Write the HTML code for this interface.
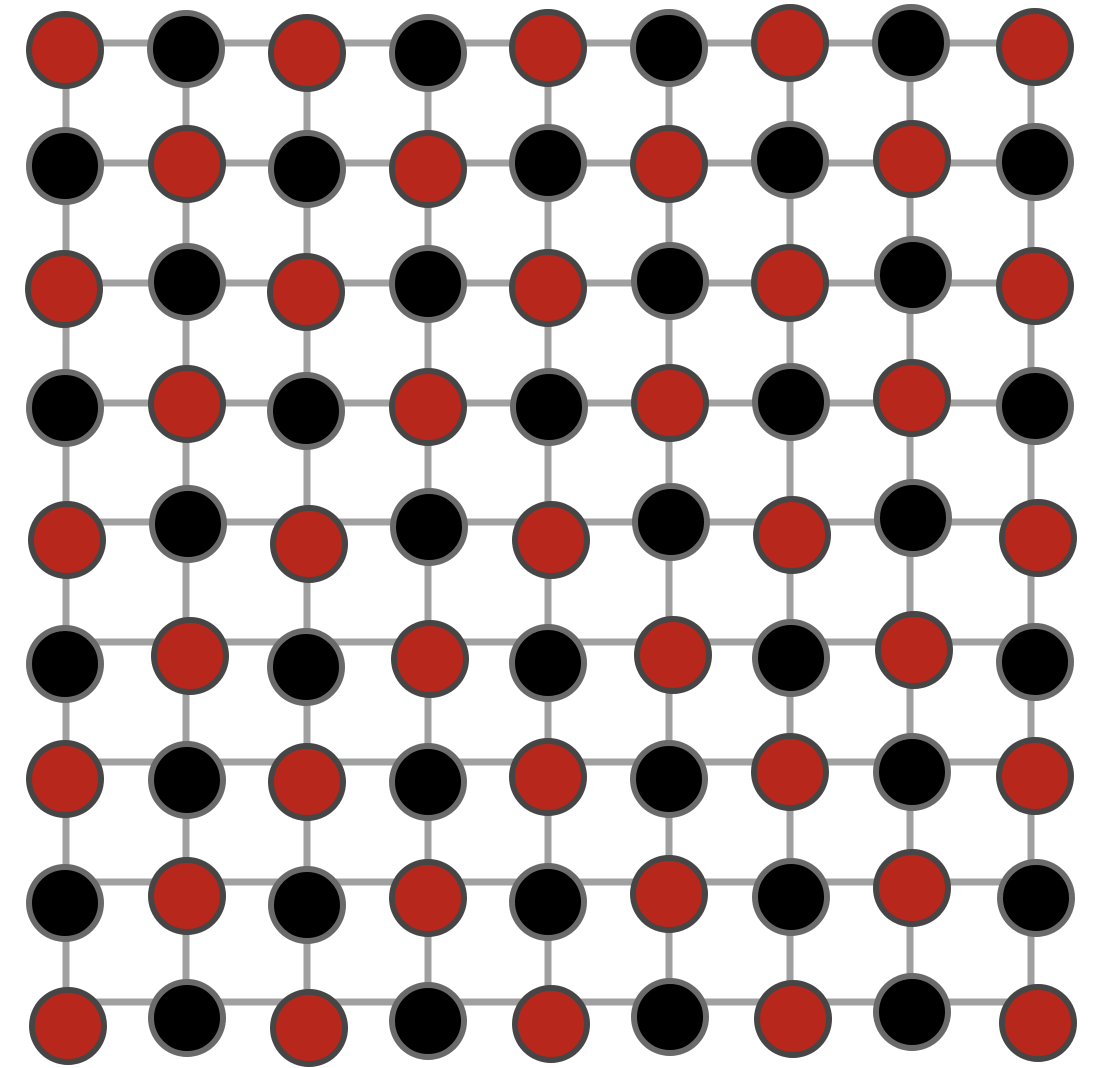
<!DOCTYPE html>
<html><head><meta charset="utf-8"><style>html,body{margin:0;padding:0;background:#fff;}svg{display:block;}</style></head>
<body>
<svg id="chart" width="1102" height="1068" viewBox="0 0 1102 1068"></svg>
<script>
const gridX = [66, 186, 307, 428, 548, 669, 790, 910, 1031];
const gridY = [43, 163, 283, 403, 522, 642, 762, 882, 1002];
const row0 = [[65,50],[186,49],[307,53],[428,53],[548,48],[669,48],[790,43],[911,43],[1035,47]];
const row1 = [[65,166],[187,164],[307,169],[428,169],[548,163],[669,164],[790,160],[912,159],[1035,162]];
const row2 = [[64,289],[187,282],[306,292],[428,284],[548,288],[670,281],[790,283],[913,275],[1035,286]];
const row3 = [[65,408],[187,404],[306,411],[428,407],[549,407],[670,403],[791,402],[912,398],[1035,406]];
const row4 = [[67,540],[188,524],[309,544],[429,527],[551,540],[671,522],[792,535],[913,518],[1038,538]];
const row5 = [[65,664],[190,656],[306,667],[430,659],[548,663],[673,655],[791,658],[914,650],[1035,662]];
const row6 = [[65,779],[187,780],[307,782],[428,782],[548,777],[669,779],[790,772],[912,772],[1035,776]];
const row7 = [[65,903],[187,896],[307,905],[428,898],[548,902],[669,894],[791,897],[912,888],[1036,898]];
const row8 = [[68,1026],[187,1018],[309,1028],[428,1021],[551,1024],[670,1017],[793,1019],[912,1012],[1038,1023]];
const rows = [row0,row1,row2,row3,row4,row5,row6,row7,row8];
const NS = "http://www.w3.org/2000/svg";
const svg = document.getElementById('chart');
function mk(t, a){const e=document.createElementNS(NS,t);for(const k in a)e.setAttribute(k,a[k]);svg.appendChild(e);return e;}
gridY.forEach((y,i)=>{
  const l = mk('line',{x1:gridX[0],x2:gridX[gridX.length-1],y1:y,y2:y,stroke:'#a0a0a0','stroke-width':7});
  
  
});
gridX.forEach((x,i)=>{
  const l = mk('line',{x1:x,x2:x,y1:gridY[0],y2:gridY[gridY.length-1],stroke:'#a0a0a0','stroke-width':7});
  
  
});
rows.forEach((row,r)=>row.forEach((p,c)=>{
  const red = (r+c)%2===0;
  const e = mk('circle',{cx:p[0],cy:p[1],r:36,fill:red?'#b8271c':'#000',stroke:red?'#464646':'#6a6a6a','stroke-width':6});
  
  
}));
</script>
</body></html>
